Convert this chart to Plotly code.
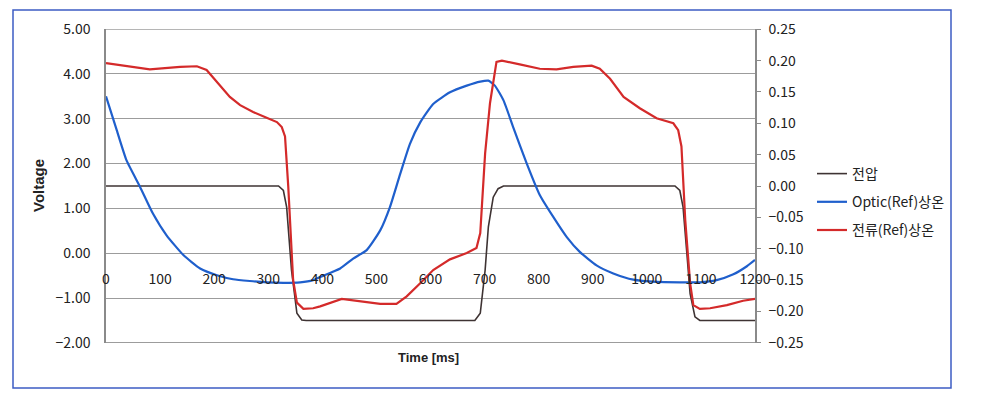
import plotly.graph_objects as go

# ---- data ----
t_voltage = [0, 319, 328, 334, 343, 353, 362, 370, 682, 692, 701, 707, 716, 725, 735,
             1052, 1061, 1067, 1074, 1080, 1089, 1098, 1200]
voltage = [1.5, 1.5, 1.40, 1.03, -0.38, -1.34, -1.49, -1.5, -1.5, -1.34, -0.38, 0.59, 1.25, 1.44, 1.5,
           1.5, 1.40, 1.03, 0.0, -0.9, -1.42, -1.5, -1.5]

t_optic = [0, 20, 38, 63, 87, 112, 143, 174, 205, 235, 266, 297, 328, 359, 383, 396, 433, 457, 482,
           507, 525, 544, 562, 581, 605, 636, 667, 692, 707, 719, 735, 753, 778, 802, 827, 852, 876,
           907, 938, 975, 1018, 1061, 1098, 1129, 1160, 1185, 1200]
optic = [3.5, 2.74, 2.07, 1.48, 0.88, 0.40, -0.04, -0.34, -0.49, -0.58, -0.62, -0.65, -0.66, -0.65,
         -0.60, -0.53, -0.34, -0.12, 0.07, 0.51, 1.03, 1.77, 2.44, 2.92, 3.33, 3.59, 3.74, 3.83, 3.85,
         3.74, 3.41, 2.81, 2.00, 1.30, 0.81, 0.36, 0.03, -0.27, -0.45, -0.59, -0.64, -0.65, -0.65,
         -0.60, -0.47, -0.29, -0.15]

t_current = [0, 26, 81, 137, 168, 186, 205, 229, 248, 272, 297, 316, 325, 331, 337, 346, 353, 365,
             383, 396, 436, 470, 507, 537, 556, 581, 605, 636, 667, 685, 692, 701, 710, 722, 732, 765,
             802, 833, 864, 898, 913, 932, 957, 987, 1018, 1049, 1058, 1064, 1071, 1080, 1086, 1098,
             1117, 1148, 1178, 1200]
current = [0.196, 0.193, 0.186, 0.190, 0.191, 0.185, 0.166, 0.142, 0.129, 0.118, 0.109, 0.102, 0.094,
           0.079, -0.001, -0.150, -0.186, -0.196, -0.195, -0.192, -0.180, -0.184, -0.188, -0.188,
           -0.176, -0.155, -0.134, -0.117, -0.107, -0.099, -0.075, 0.052, 0.132, 0.198, 0.200, 0.194,
           0.187, 0.186, 0.190, 0.192, 0.187, 0.171, 0.142, 0.124, 0.108, 0.100, 0.089, 0.063, -0.054,
           -0.155, -0.190, -0.196, -0.195, -0.190, -0.183, -0.180]

x_ticks = [0, 100, 200, 300, 400, 500, 600, 700, 800, 900, 1000, 1100, 1200]
y_ticks = [-2, -1, 0, 1, 2, 3, 4, 5]
y2_ticks = [-0.25, -0.2, -0.15, -0.1, -0.05, 0, 0.05, 0.1, 0.15, 0.2, 0.25]
names = ["전압", "Optic(Ref)상온", "전류(Ref)상온"]

# ---- layout geometry ----
W, H = 990, 414
L, R, T, B = 106, 755, 29, 343
pw, ph = R - L, B - T


def px(x):
    return (x - L) / pw


def py(y):
    return (B - y) / ph


FONT = "Noto Sans CJK KR, Noto Sans, sans-serif"
TXT = "#222222"
GRID = "#9c9c9c"

fig = go.Figure()
fig.add_trace(go.Scatter(x=t_voltage, y=voltage, name=names[0], mode="lines",
                         line=dict(color="#3e3333", width=1.6), legendgroup="a"))
fig.add_trace(go.Scatter(x=t_optic, y=optic, name=names[1], mode="lines",
                         line=dict(color="#1f5fcc", width=2.2, shape="spline", smoothing=0.5),
                         legendgroup="b"))
fig.add_trace(go.Scatter(x=t_current, y=current, name=names[2], mode="lines", yaxis="y2",
                         line=dict(color="#d42a2a", width=2.2), legendgroup="c"))

fig.update_layout(
    width=W, height=H,
    margin=dict(l=L, r=W - R, t=T, b=H - B),
    paper_bgcolor="white", plot_bgcolor="white",
    font=dict(family=FONT, size=14, color=TXT),
    showlegend=True,
    legend=dict(x=px(812), y=py(158), xanchor="left", yanchor="top",
                font=dict(family=FONT, size=14, color=TXT),
                traceorder="grouped", tracegroupgap=7, bgcolor="rgba(0,0,0,0)"),
    xaxis=dict(range=[0, 1200], tickvals=x_ticks, showgrid=False, zeroline=False,
               showline=False, ticks="", anchor="free", position=py(269),
               tickfont=dict(family=FONT, size=14, color=TXT), fixedrange=True),
    yaxis=dict(range=[-2.003, 5.003], tickvals=y_ticks, tickformat=".2f",
               showgrid=True, gridcolor=GRID,
               gridwidth=1.2, zeroline=False, showline=True, linecolor="#8a8a8a", linewidth=1.5,
               ticks="", ticklabelstandoff=11, tickfont=dict(family=FONT, size=14, color=TXT)),
    yaxis2=dict(range=[-0.25043, 0.25043], tickvals=y2_ticks,
                tickformat=".2f", overlaying="y", side="right",
                showgrid=False, zeroline=False, showline=True, linecolor="#8a8a8a", linewidth=1.5,
                ticks="outside", ticklen=4, tickcolor="#8a8a8a", ticklabelstandoff=5,
                tickfont=dict(family=FONT, size=14, color=TXT)),
    annotations=[
        dict(text="<b>Voltage</b>", x=px(38), y=py(186), xref="paper", yref="paper",
             xanchor="center", yanchor="middle",
             showarrow=False, textangle=-90,
             font=dict(family="Liberation Sans, Arial, sans-serif", size=15, color=TXT)),
        dict(text="<b>Time [ms]</b>", x=px(428), y=py(357), xref="paper", yref="paper",
             xanchor="center", yanchor="middle",
             showarrow=False,
             font=dict(family="Liberation Sans, Arial, sans-serif", size=13, color=TXT)),
    ],
    shapes=[
        dict(type="rect", xref="paper", yref="paper", x0=px(13), x1=px(951), y0=py(388), y1=py(10),
             line=dict(color="#3d5cc4", width=1.5), fillcolor="rgba(0,0,0,0)", layer="below"),
        dict(type="line", xref="paper", yref="y", x0=0, x1=1, y0=y_ticks[-1], y1=y_ticks[-1],
             line=dict(color=GRID, width=1.2), layer="below"),
        dict(type="line", xref="paper", yref="y", x0=0, x1=1, y0=y_ticks[0], y1=y_ticks[0],
             line=dict(color=GRID, width=1.5), layer="below"),
    ],
)

fig.write_html("out.html")
